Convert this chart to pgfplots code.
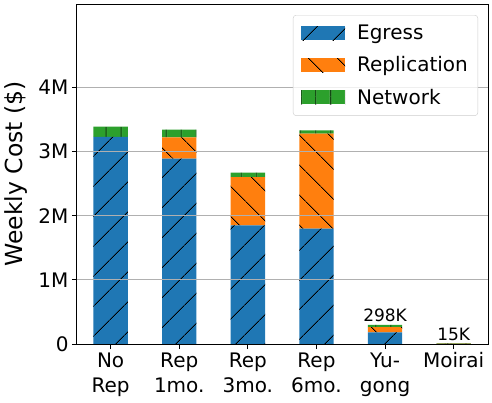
\documentclass[border=0pt]{standalone}
\usepackage{pgfplots}
\usepackage{pgfplotstable}
\pgfplotsset{compat=1.18}
\usepackage{fontspec}
\setmainfont{DejaVu Sans}
\usetikzlibrary{patterns.meta}

\definecolor{egress}{HTML}{1F77B4}
\definecolor{repl}{HTML}{FF7F0E}
\definecolor{net}{HTML}{2CA02C}

% Weekly cost components, in millions of dollars
\pgfplotstableread{
x egress repl  net
0 3.230  0.000 0.160
1 2.890  0.330 0.120
2 1.850  0.750 0.070
3 1.800  1.480 0.050
4 0.183  0.080 0.035
5 0.003  0.002 0.010
}\costs

\begin{document}
\begin{tikzpicture}
\begin{axis}[
  at={(0,0)}, anchor=south west,
  scale only axis, width=411bp, height=340bp,
  ybar stacked, bar width=0.5,
  xmin=-0.49, xmax=5.5, ymin=0, ymax=5.3,
  xtick={0,1,2,3,4,5},
  xticklabels={{No\\Rep},{Rep\\1mo.},{Rep\\3mo.},{Rep\\6mo.},{Yu-\\gong},{Moirai}},
  ytick={0,1,2,3,4}, yticklabels={0,1M,2M,3M,4M},
  tick align=outside, xtick pos=bottom, ytick pos=left,
  major tick length=5bp,
  tick style={black, line width=1bp},
  ymajorgrids, major grid style={draw=black!31, line width=0.8bp},
  axis line style={line width=1bp},
  axis on top,
  ticklabel style={font=\fontsize{20bp}{25bp}\selectfont},
  xticklabel style={align=center},
  ylabel={Weekly Cost (\$)},
  ylabel style={font=\fontsize{23.5bp}{28bp}\selectfont, at={(axis description cs:-0.148,0.5)}, anchor=center},
  legend image code/.code={\path[#1,draw=none,fill opacity=1,sharp corners] (0bp,-7bp) rectangle (44bp,7bp);},
  legend cell align=left,
  legend style={at={(0.9757,0.9676)}, anchor=north east, draw=black!20, rounded corners=3bp,
    fill=white, fill opacity=0.8, text opacity=1,
    font=\fontsize{20bp}{24bp}\selectfont, row sep=11.5bp, inner xsep=8bp, inner ysep=8bp,
    /tikz/every odd column/.append style={column sep=10bp}},
]
\addplot[fill=egress, draw=none,
  postaction={pattern={Lines[angle=45,distance=21bp,line width=0.9bp]}, pattern color=black}]
  table[x=x,y=egress]{\costs};
\addplot[fill=repl, draw=none,
  postaction={pattern={Lines[angle=-45,distance=21bp,line width=0.9bp]}, pattern color=black}]
  table[x=x,y=repl]{\costs};
\addplot[fill=net, draw=none,
  postaction={pattern={Lines[angle=90,distance=15bp,line width=0.9bp]}, pattern color=black}]
  table[x=x,y=net]{\costs};
\legend{Egress,Replication,Network}
\node[above, inner sep=2.5bp, font=\fontsize{17bp}{20bp}\selectfont] at (axis cs:4,0.298) {298K};
\node[above, inner sep=2.5bp, font=\fontsize{17bp}{20bp}\selectfont] at (axis cs:5,0.015) {15K};
\end{axis}
\pgfresetboundingbox
\path (-77bp,-59bp) rectangle (415bp,344bp);
\end{tikzpicture}
\end{document}
